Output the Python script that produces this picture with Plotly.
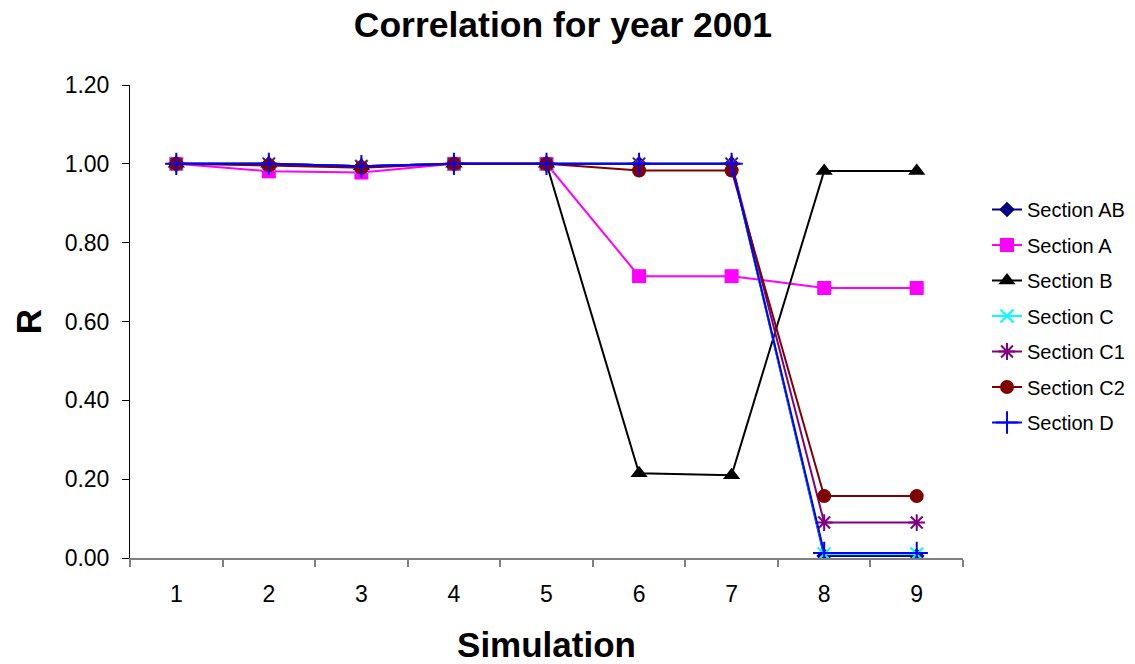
import plotly.graph_objects as go

simulations = ["1", "2", "3", "4", "5", "6", "7", "8", "9"]
section_ab = [1.00, 1.00, 0.994, 1.00, 1.00, 1.00, 1.00, 0.005, 0.005]
section_a = [1.00, 0.981, 0.978, 1.00, 1.00, 0.715, 0.715, 0.685, 0.685]
section_b = [1.00, 1.00, 0.994, 1.00, 1.00, 0.215, 0.21, 0.982, 0.982]
section_c = [1.00, 1.00, 0.994, 1.00, 1.00, 1.00, 1.00, 0.01, 0.01]
section_c1 = [1.00, 1.00, 0.994, 1.00, 1.00, 1.00, 1.00, 0.09, 0.09]
section_c2 = [1.00, 0.996, 0.99, 1.00, 1.00, 0.983, 0.983, 0.157, 0.157]
section_d = [1.00, 1.00, 0.994, 1.00, 1.00, 1.00, 1.00, 0.013, 0.013]

series = [
    ("Section AB", section_ab, "#000080", "diamond", 12, 0),
    ("Section A", section_a, "#FF00FF", "square", 14, 0),
    ("Section B", section_b, "#000000", "triangle-up", 15, 0),
    ("Section C", section_c, "#00FFFF", "x-thin", 13, 2),
    ("Section C1", section_c1, "#800080", "asterisk", 14, 2),
    ("Section C2", section_c2, "#800000", "circle", 14, 0),
    ("Section D", section_d, "#0000FF", "cross-thin", 16, 2),
]

fig = go.Figure()
for i, (name, vals, color, sym, size, lw) in enumerate(series):
    fig.add_trace(go.Scatter(
        x=simulations, y=vals, name=name, mode="lines+markers",
        legendgroup=f"g{i}",
        line=dict(color=color, width=2),
        marker=dict(symbol=sym, size=size, color=color,
                    line=dict(color=color, width=lw)),
    ))

font_family = "Liberation Sans, Arial, sans-serif"
fig.update_layout(
    width=1135, height=664,
    margin=dict(l=130, r=172, t=85, b=106),
    paper_bgcolor="white", plot_bgcolor="white",
    font=dict(family=font_family, color="black", size=23),
    title=dict(text="<b>Correlation for year 2001</b>", x=0.496, xanchor="center",
               y=1 - 25 / 664, yanchor="middle", yref="container",
               font=dict(size=35.5, family=font_family, color="black")),
    legend=dict(xref="container", yref="container", x=987 / 1135, xanchor="left",
                y=1 - 190 / 664, yanchor="top",
                font=dict(size=20, family=font_family, color="black"),
                tracegroupgap=6.5, bgcolor="rgba(0,0,0,0)", borderwidth=0),
    showlegend=True,
)
fig.update_xaxes(
    type="category", tickson="boundaries", ticks="outside", ticklen=7,
    tickcolor="#808080", tickwidth=2, automargin=False,
    showline=True, linecolor="#808080", linewidth=2, showgrid=False,
    ticklabelstandoff=14,
    title=dict(text="<b>Simulation</b>", font=dict(size=35, family=font_family), standoff=30),
    range=[-0.5, 8.5],
)
fig.update_yaxes(
    range=[0, 1.2], dtick=0.2, tick0=0, tickformat=".2f",
    ticks="outside", ticklen=7, tickcolor="black", tickwidth=1, automargin=False,
    showline=True, linecolor="black", linewidth=1, showgrid=False, zeroline=False,
    ticklabelstandoff=8,
    title=dict(text="<b>R</b>", font=dict(size=35, family=font_family), standoff=12),
)

fig.write_html("out.html")
